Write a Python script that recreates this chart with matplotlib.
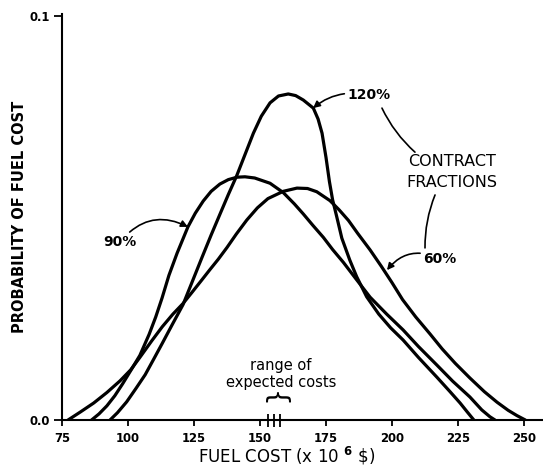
#!/usr/bin/env python3
"""
Probability of fuel cost for three contract fractions (hand-drawn style figure).
"""

import matplotlib
matplotlib.use("Agg")
import matplotlib.pyplot as plt

# ── Data ────────────────────────────────────────────────────────────────────
# 60% contract fraction
x_60 = [77.3, 82, 87, 92, 97, 101, 104.5, 109, 113, 117, 120.8, 124, 128, 131,
        134.2, 137.5, 141, 145, 149, 153, 158.8, 164, 168, 171.5, 176.5, 180,
        183.5, 187, 191.7, 196, 200, 204, 209, 214.4, 219, 224, 229.5, 235,
        239.8, 244, 247.3, 250.5]
p_60 = [0.0, 0.0020, 0.0042, 0.0068, 0.0097, 0.0124, 0.0155, 0.0196, 0.0231,
        0.0262, 0.0288, 0.0314, 0.0347, 0.0372, 0.0398, 0.0427, 0.0460, 0.0495,
        0.0525, 0.0548, 0.0566, 0.0574, 0.0573, 0.0565, 0.0543, 0.0520, 0.0494,
        0.0462, 0.0421, 0.0380, 0.0340, 0.0298, 0.0255, 0.0213, 0.0176, 0.0140,
        0.0104, 0.0070, 0.0044, 0.0024, 0.0011, 0.0]

# 90% contract fraction
x_90 = [86.2, 89, 92, 95, 98, 101, 104.5, 108, 110.5, 112.9, 115.5, 118.6,
        122.7, 125.5, 128.5, 131.5, 134.8, 138, 141.3, 144.3, 148, 153.8, 158.8,
        163, 166.4, 170, 174, 177.5, 181.6, 186.5, 191.7, 198, 204.2, 210, 217,
        223, 229.5, 234, 237.1, 239]
p_90 = [0.0, 0.0015, 0.0035, 0.0060, 0.0090, 0.0122, 0.0160, 0.0212, 0.0255,
        0.0302, 0.0358, 0.0413, 0.0478, 0.0512, 0.0542, 0.0566, 0.0584, 0.0595,
        0.0601, 0.0602, 0.0599, 0.0586, 0.0563, 0.0535, 0.0510, 0.0482, 0.0452,
        0.0422, 0.0390, 0.0348, 0.0304, 0.0262, 0.0223, 0.0182, 0.0136, 0.0096,
        0.0057, 0.0025, 0.0008, 0.0]

# 120% contract fraction
x_120 = [93.2, 96, 99.5, 103, 106.5, 109.6, 113, 116.5, 120.8, 124.5, 128,
         131.5, 135, 138, 141.2, 144.5, 147.5, 150.5, 153.8, 157, 160.7, 163.5,
         166.4, 170.2, 172, 173.5, 175, 176.3, 177.5, 179, 181, 184, 186.6,
         190.4, 195, 199.5, 204.2, 210, 217, 222, 225.8, 228.5, 231]
p_120 = [0.0, 0.0018, 0.0045, 0.0078, 0.0112, 0.0149, 0.0190, 0.0233, 0.0285,
         0.0345, 0.0402, 0.0458, 0.0512, 0.0558, 0.0605, 0.0660, 0.0710, 0.0752,
         0.0785, 0.0802, 0.0807, 0.0803, 0.0792, 0.0772, 0.0745, 0.0710, 0.0650,
         0.0590, 0.0545, 0.0505, 0.0450, 0.0396, 0.0355, 0.0305, 0.0262, 0.0228,
         0.0198, 0.0155, 0.0106, 0.0070, 0.0042, 0.0020, 0.0]

expected_costs = [153.0, 155.3, 157.5]

x_ticks = [75, 100, 125, 150, 175, 200, 225, 250]
y_ticks = [0.0, 0.1]
y_tick_labels = ["0.0", "0.1"]

# ── Figure ──────────────────────────────────────────────────────────────────
plt.rcParams["font.family"] = ["DejaVu Sans"]

W, H = 543, 468
fig = plt.figure(figsize=(W / 100, H / 100), dpi=100)
ax = fig.add_axes([62 / W, 1 - 420 / H, (W - 62) / W, (420 - 14) / H])

curve_kw = dict(color="black", linewidth=2.3, solid_joinstyle="round",
                solid_capstyle="round")
ax.plot(x_60, p_60, **curve_kw)
ax.plot(x_90, p_90, **curve_kw)
ax.plot(x_120, p_120, **curve_kw)

ax.set_xlim(75, 75 + (W - 62) / 2.64)
ax.set_ylim(0, 0.1 * 406 / 404)

for side in ("top", "right"):
    ax.spines[side].set_visible(False)
for side in ("left", "bottom"):
    ax.spines[side].set_linewidth(1.5)

ax.set_xticks(x_ticks)
ax.set_yticks(y_ticks)
ax.set_yticklabels(y_tick_labels)
ax.tick_params(axis="x", direction="out", length=4, width=1.3, pad=4.5,
               labelsize=8.4)
ax.tick_params(axis="y", direction="out", length=5.5, width=1.3, pad=3,
               labelsize=8.4)
for lab in ax.get_xticklabels() + ax.get_yticklabels():
    lab.set_fontweight("bold")

# marks for the expected costs on the axis, with the brace above them
ax.vlines(expected_costs, -0.0018, 0.0015, color="black", linewidth=1.3,
          clip_on=False)
ax.text(155.2, 0.0052, "{", rotation=-90, ha="center", va="center",
        fontsize=19)
ax.text(158.0, 0.0134, "range of", ha="center", va="center", fontsize=10.5)
ax.text(158.0, 0.0092, "expected costs", ha="center", va="center",
        fontsize=10.5)

# labels with arrows
arrow_kw = dict(arrowstyle="-|>", color="black", lw=1.2, mutation_scale=10,
                shrinkA=0, shrinkB=0)
ax.annotate("120%", xy=(170.1, 0.0772), xytext=(183.0, 0.0804),
            ha="left", va="center", fontsize=10, fontweight="bold",
            arrowprops=dict(connectionstyle="arc3,rad=0.25", **arrow_kw))
ax.annotate("60%", xy=(198.1, 0.0371), xytext=(211.7, 0.0399),
            ha="left", va="center", fontsize=10, fontweight="bold",
            arrowprops=dict(connectionstyle="arc3,rad=0.4", **arrow_kw))
ax.annotate("90%", xy=(122.7, 0.0478), xytext=(103.4, 0.0441),
            ha="right", va="center", fontsize=10, fontweight="bold",
            arrowprops=dict(connectionstyle="arc3,rad=-0.4", **arrow_kw))

ax.text(222.7, 0.0639, "CONTRACT", ha="center", va="center", fontsize=11.5)
ax.text(222.7, 0.0589, "FRACTIONS", ha="center", va="center", fontsize=11.5)
line_kw = dict(arrowstyle="-", color="black", lw=1.2, shrinkA=0, shrinkB=0)
ax.annotate("", xy=(196.2, 0.0772), xytext=(208.7, 0.0663),
            arrowprops=dict(connectionstyle="arc3,rad=-0.1", **line_kw))
ax.annotate("", xy=(212.5, 0.0426), xytext=(216.3, 0.0557),
            arrowprops=dict(connectionstyle="arc3,rad=0.1", **line_kw))

# axis titles
fig.text(287 / W, 1 - 456 / H, r"FUEL COST (x 10 ${}^{\mathbf{6}}$ \$)",
         ha="center", va="center", fontsize=12)
fig.text(20 / W, 1 - 217 / H, "PROBABILITY OF FUEL COST", rotation=90,
         ha="center", va="center", fontsize=10.5, fontweight="bold")

fig.savefig("out.png", dpi=100)
